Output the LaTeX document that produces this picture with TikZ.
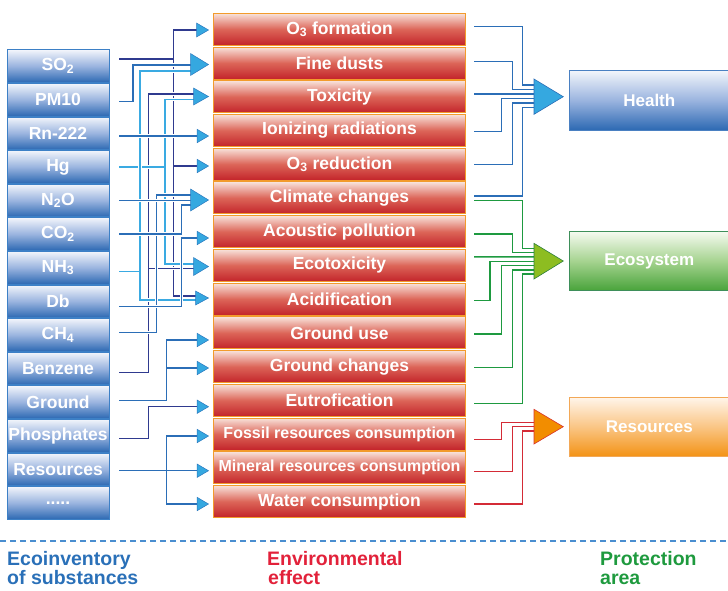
\documentclass[tikz,border=0pt]{standalone}
\usepackage{fontspec}
\setmainfont{Liberation Sans}
\usetikzlibrary{calc}
\definecolor{cnavy}{HTML}{2F3A8F}
\definecolor{cmblue}{HTML}{2B6EB7}
\definecolor{clblue}{HTML}{3AAAE2}
\definecolor{chead}{HTML}{35A8E0}
\definecolor{cheadedge}{HTML}{2A78BE}
\definecolor{cgreen}{HTML}{1E9A40}
\definecolor{cred}{HTML}{D42B36}
\definecolor{lbtop}{HTML}{F2F5FB}
\definecolor{lbmid}{HTML}{9AB4DF}
\definecolor{lbbot}{HTML}{2D69B3}
\definecolor{lbedge}{HTML}{3D80C6}
\definecolor{mbtop}{HTML}{F8E2DA}
\definecolor{mbmid}{HTML}{DC6558}
\definecolor{mbbot}{HTML}{C3242A}
\definecolor{mbedge}{HTML}{F29B2C}
\definecolor{gtop}{HTML}{F5FAF0}
\definecolor{gmid}{HTML}{A5D38F}
\definecolor{gbot}{HTML}{48A33A}
\definecolor{gedge}{HTML}{3E8F5A}
\definecolor{otop}{HTML}{FFF5EA}
\definecolor{omid}{HTML}{FAC584}
\definecolor{obot}{HTML}{F39214}
\definecolor{oedge}{HTML}{F2A857}
\definecolor{hedge}{HTML}{4A80C2}
\definecolor{gfill}{HTML}{8DBD21}
\definecolor{gaedge}{HTML}{2D7F3C}
\definecolor{ofill}{HTML}{F28D00}
\definecolor{oaedge}{HTML}{D8322C}
\definecolor{txtblue}{HTML}{2A70B8}
\definecolor{txtred}{HTML}{E2213A}
\definecolor{txtgreen}{HTML}{1E9A3E}
\definecolor{dashblue}{HTML}{4A8ED0}
\newcommand\lcahead[4]{\filldraw[headstyle] (#1,#2) -- ++(-#3,-#4/2) -- ++(0,#4) -- cycle;}
\begin{document}
\begin{tikzpicture}[x=1pt,y=-1pt,
  lab/.style={text=white, font=\fontsize{17.5}{18}\selectfont\bfseries, inner sep=0pt},
  lbox/.style={lab, draw=lbedge, line width=0.8pt, top color=lbtop, bottom color=lbbot, middle color=lbmid, minimum width=102pt, minimum height=32.6pt},
  mbox/.style={lab, draw=mbedge, line width=1pt, top color=mbtop, bottom color=mbbot, middle color=mbmid, minimum width=252.4pt, minimum height=32pt},
  small/.style={font=\fontsize{16}{16}\selectfont\bfseries},
  rbox/.style={text=white, font=\fontsize{17}{17}\selectfont\bfseries, minimum width=160pt, minimum height=59.3pt, line width=0.8pt},
  con/.style={line width=1.4pt, preaction={draw=white, line width=3.4pt}},
  headstyle/.style={fill=chead, draw=cheadedge, line width=0.5pt},
  btext/.style={anchor=base west, inner sep=0pt, font=\fontsize{19.5}{20}\selectfont\bfseries}
]
\useasboundingbox (0,0) rectangle (728,590);
\clip (0,0) rectangle (728,590);

% left column
\node[lbox] (so2)  at (58,66.1)  {SO\textsubscript{2}};
\node[lbox] (pm10) at (58,99.7)  {PM10};
\node[lbox] (rn)   at (58,133.3) {Rn-222};
\node[lbox] (hg)   at (58,166.9) {Hg};
\node[lbox] (nno)  at (58,200.5) {N\textsubscript{2}O};
\node[lbox] (co2)  at (58,234.1) {CO\textsubscript{2}};
\node[lbox] (nh3)  at (58,267.7) {NH\textsubscript{3}};
\node[lbox] (db)   at (58,301.3) {Db};
\node[lbox] (ch4)  at (58,334.9) {CH\textsubscript{4}};
\node[lbox] (benz) at (58,368.5) {Benzene};
\node[lbox] (grd)  at (58,402.1) {Ground};
\node[lbox] (phos) at (58,435.7) {Phosphates};
\node[lbox] (res)  at (58,469.3) {Resources};
\node[lbox] (dots) at (58,502.9) {.....};

% middle column
\node[mbox] (m0)  at (339.5,29.3)   {O\textsubscript{3} formation};
\node[mbox] (m1)  at (339.5,63.03)  {Fine dusts};
\node[mbox] (m2)  at (339.5,96.76)  {Toxicity};
\node[mbox] (m3)  at (339.5,130.49) {Ionizing radiations};
\node[mbox] (m4)  at (339.5,164.22) {O\textsubscript{3} reduction};
\node[mbox] (m5)  at (339.5,197.95) {Climate changes};
\node[mbox] (m6)  at (339.5,231.68) {Acoustic pollution};
\node[mbox] (m7)  at (339.5,265.41) {Ecotoxicity};
\node[mbox] (m8)  at (339.5,299.14) {Acidification};
\node[mbox] (m9)  at (339.5,332.87) {Ground use};
\node[mbox] (m10) at (339.5,366.6)  {Ground changes};
\node[mbox] (m11) at (339.5,400.33) {Eutrofication};
\node[mbox,small] (m12) at (339.5,434.06) {Fossil resources consumption};
\node[mbox,small] (m13) at (339.5,467.79) {Mineral resources consumption};
\node[mbox] (m14) at (339.5,501.52) {Water consumption};

% left connectors
\draw[con,cnavy] ([xshift=10pt,yshift=7.1pt]so2.east) -| (173.3,30) -- (198,30)
  (173.3,59) |- (196.5,296) (173.3,166) -- (198,166);
\draw[con,cnavy] ([xshift=10pt,yshift=-4.2pt]benz.east) -| (148.3,94) -- (194.5,94)
  (148.3,268.5) -- (194.5,268.5);
\draw[con,cnavy] ([xshift=10pt,yshift=-2.6pt]phos.east) -| (148.3,406.7) -- (198,406.7);
\draw[con,clblue] ([xshift=10pt]hg.east) -| (165,99.5) -- (194.5,99.5)
  (165,166.9) |- (194.5,264);
\draw[con,clblue] ([xshift=10pt,yshift=-4pt]nh3.east) -| (140,71) -- (191.5,71)
  (140,271.7) |- (196.5,300);
\draw[con,cmblue] ([xshift=10pt,yshift=2.2pt]ch4.east) -| (156.7,195) -- (191.5,195);
\draw[con,cmblue] ([xshift=10pt]co2.east) -| (181.7,205) -- (191.5,205);
\draw[con,cmblue] ([xshift=10pt,yshift=-5.4pt]db.east) -| (181.7,238) -- (198,238);
\draw[con,cmblue] ([xshift=10pt,yshift=1.4pt]grd.east) -| (166.7,340) -- (198,340)
  (166.7,368) -- (198,368);
\draw[con,cmblue] ([xshift=10pt,yshift=-1.4pt]res.east) -- (198,470.7)
  (198,436) -| (166.7,504) -- (198,504);
\draw[con,cmblue] ([xshift=10pt,yshift=-2pt]pm10.east) -| (133,65) -- (191.5,65);
\draw[con,cmblue] ([xshift=10pt,yshift=-2.7pt]rn.east) -- (198,136);
\draw[con,cmblue] ([xshift=10pt]nno.east) -- (191.5,200.5);

% arrowheads into effects
\lcahead{208.5}{30}{12}{14}
\lcahead{208.5}{64.5}{18}{22}
\lcahead{208.5}{96.5}{15}{17}
\lcahead{208.5}{136}{11.5}{13.5}
\lcahead{208.5}{166}{11.5}{13.5}
\lcahead{208.5}{200}{18}{22}
\lcahead{208.5}{238}{11.5}{13.5}
\lcahead{208.5}{266.5}{15}{18}
\lcahead{208.5}{298}{13}{14}
\lcahead{208.5}{340}{11.5}{13.5}
\lcahead{208.5}{368}{11.5}{13.5}
\lcahead{208.5}{406.7}{11.5}{13.5}
\lcahead{208.5}{436}{11.5}{13.5}
\lcahead{208.5}{470.7}{11.5}{13.5}
\lcahead{208.5}{504}{11.5}{13.5}

% right connectors: health
\draw[con,cmblue] ([xshift=8pt,yshift=2.6pt]m0.east) -| (522.7,85) -- (540,85);
\draw[con,cmblue] ([xshift=8pt,yshift=1.3pt]m1.east) -| (512.7,89.5) -- (540,89.5);
\draw[con,cmblue] ([xshift=8pt,yshift=2.76pt]m2.east) -- (540,94);
\draw[con,cmblue] ([xshift=8pt,yshift=-1.2pt]m3.east) -| (501.7,98.5) -- (540,98.5);
\draw[con,cmblue] ([xshift=8pt]m4.east) -| (512.3,103) -- (540,103);
\draw[con,cmblue] ([xshift=8pt,yshift=2pt]m5.east) -| (522.7,107.5) -- (540,107.5);
% ecosystem
\draw[con,cgreen] ([xshift=8pt,yshift=-2.7pt]m5.east) -| (522.7,248.3) -- (540,248.3);
\draw[con,cgreen] ([xshift=8pt,yshift=-2.3pt]m6.east) -| (512.7,252.6) -- (540,252.6);
\draw[con,cgreen] ([xshift=8pt,yshift=8.5pt]m7.east) -- (540,256.9);
\draw[con,cgreen] ([xshift=8pt,yshift=-1.5pt]m8.east) -| (490,261.2) -- (540,261.2);
\draw[con,cgreen] ([xshift=8pt,yshift=-1.1pt]m9.east) -| (501.7,265.5) -- (540,265.5);
\draw[con,cgreen] ([xshift=8pt,yshift=-0.7pt]m10.east) -| (512.3,269.8) -- (540,269.8);
\draw[con,cgreen] ([xshift=8pt,yshift=-3pt]m11.east) -| (522.7,274.1) -- (540,274.1);
% resources
\draw[con,cred] ([xshift=8pt,yshift=-5.2pt]m12.east) -| (501.7,422.3) -- (540,422.3);
\draw[con,cred] ([xshift=8pt,yshift=-3.9pt]m13.east) -| (512.3,426.7) -- (540,426.7);
\draw[con,cred] ([xshift=8pt,yshift=-2.5pt]m14.east) -| (522.7,431) -- (540,431);

% big arrowheads
\filldraw[fill=chead, draw=cmblue, line width=0.6pt] (534,79) -- (563.3,96.7) -- (534,114.3) -- cycle;
\filldraw[fill=gfill, draw=gaedge, line width=0.6pt] (534,243.3) -- (563.3,261) -- (534,279) -- cycle;
\filldraw[fill=ofill, draw=oaedge, line width=0.6pt] (534,409.3) -- (563.3,426.7) -- (534,444) -- cycle;

% protection areas
\node[rbox, draw=hedge, top color=lbtop, bottom color=lbbot, middle color=lbmid] (health) at (649.3,100.35) {Health};
\node[rbox, draw=gedge, top color=gtop, bottom color=gbot, middle color=gmid] (eco) at (649.3,261.2) {Ecosystem};
\node[rbox, draw=oedge, top color=otop, bottom color=obot, middle color=omid] (resrc) at (649.3,427) {Resources};

% separator
\draw[dashblue, line width=1.3pt, dash pattern=on 6pt off 4pt] (0,541) -- (728,541);

% legend texts
\node[btext, text=txtblue] (l1a) at (7,565) {Ecoinventory};
\node[btext, text=txtblue] (l1b) at (7,584.5) {of substances};
\node[btext, text=txtred] (l2a) at (267,565) {Environmental};
\node[btext, text=txtred] (l2b) at (268,584.5) {effect};
\node[btext, text=txtgreen] (l3a) at (600,565) {Protection};
\node[btext, text=txtgreen] (l3b) at (600,584.5) {area};
\end{tikzpicture}
\end{document}
